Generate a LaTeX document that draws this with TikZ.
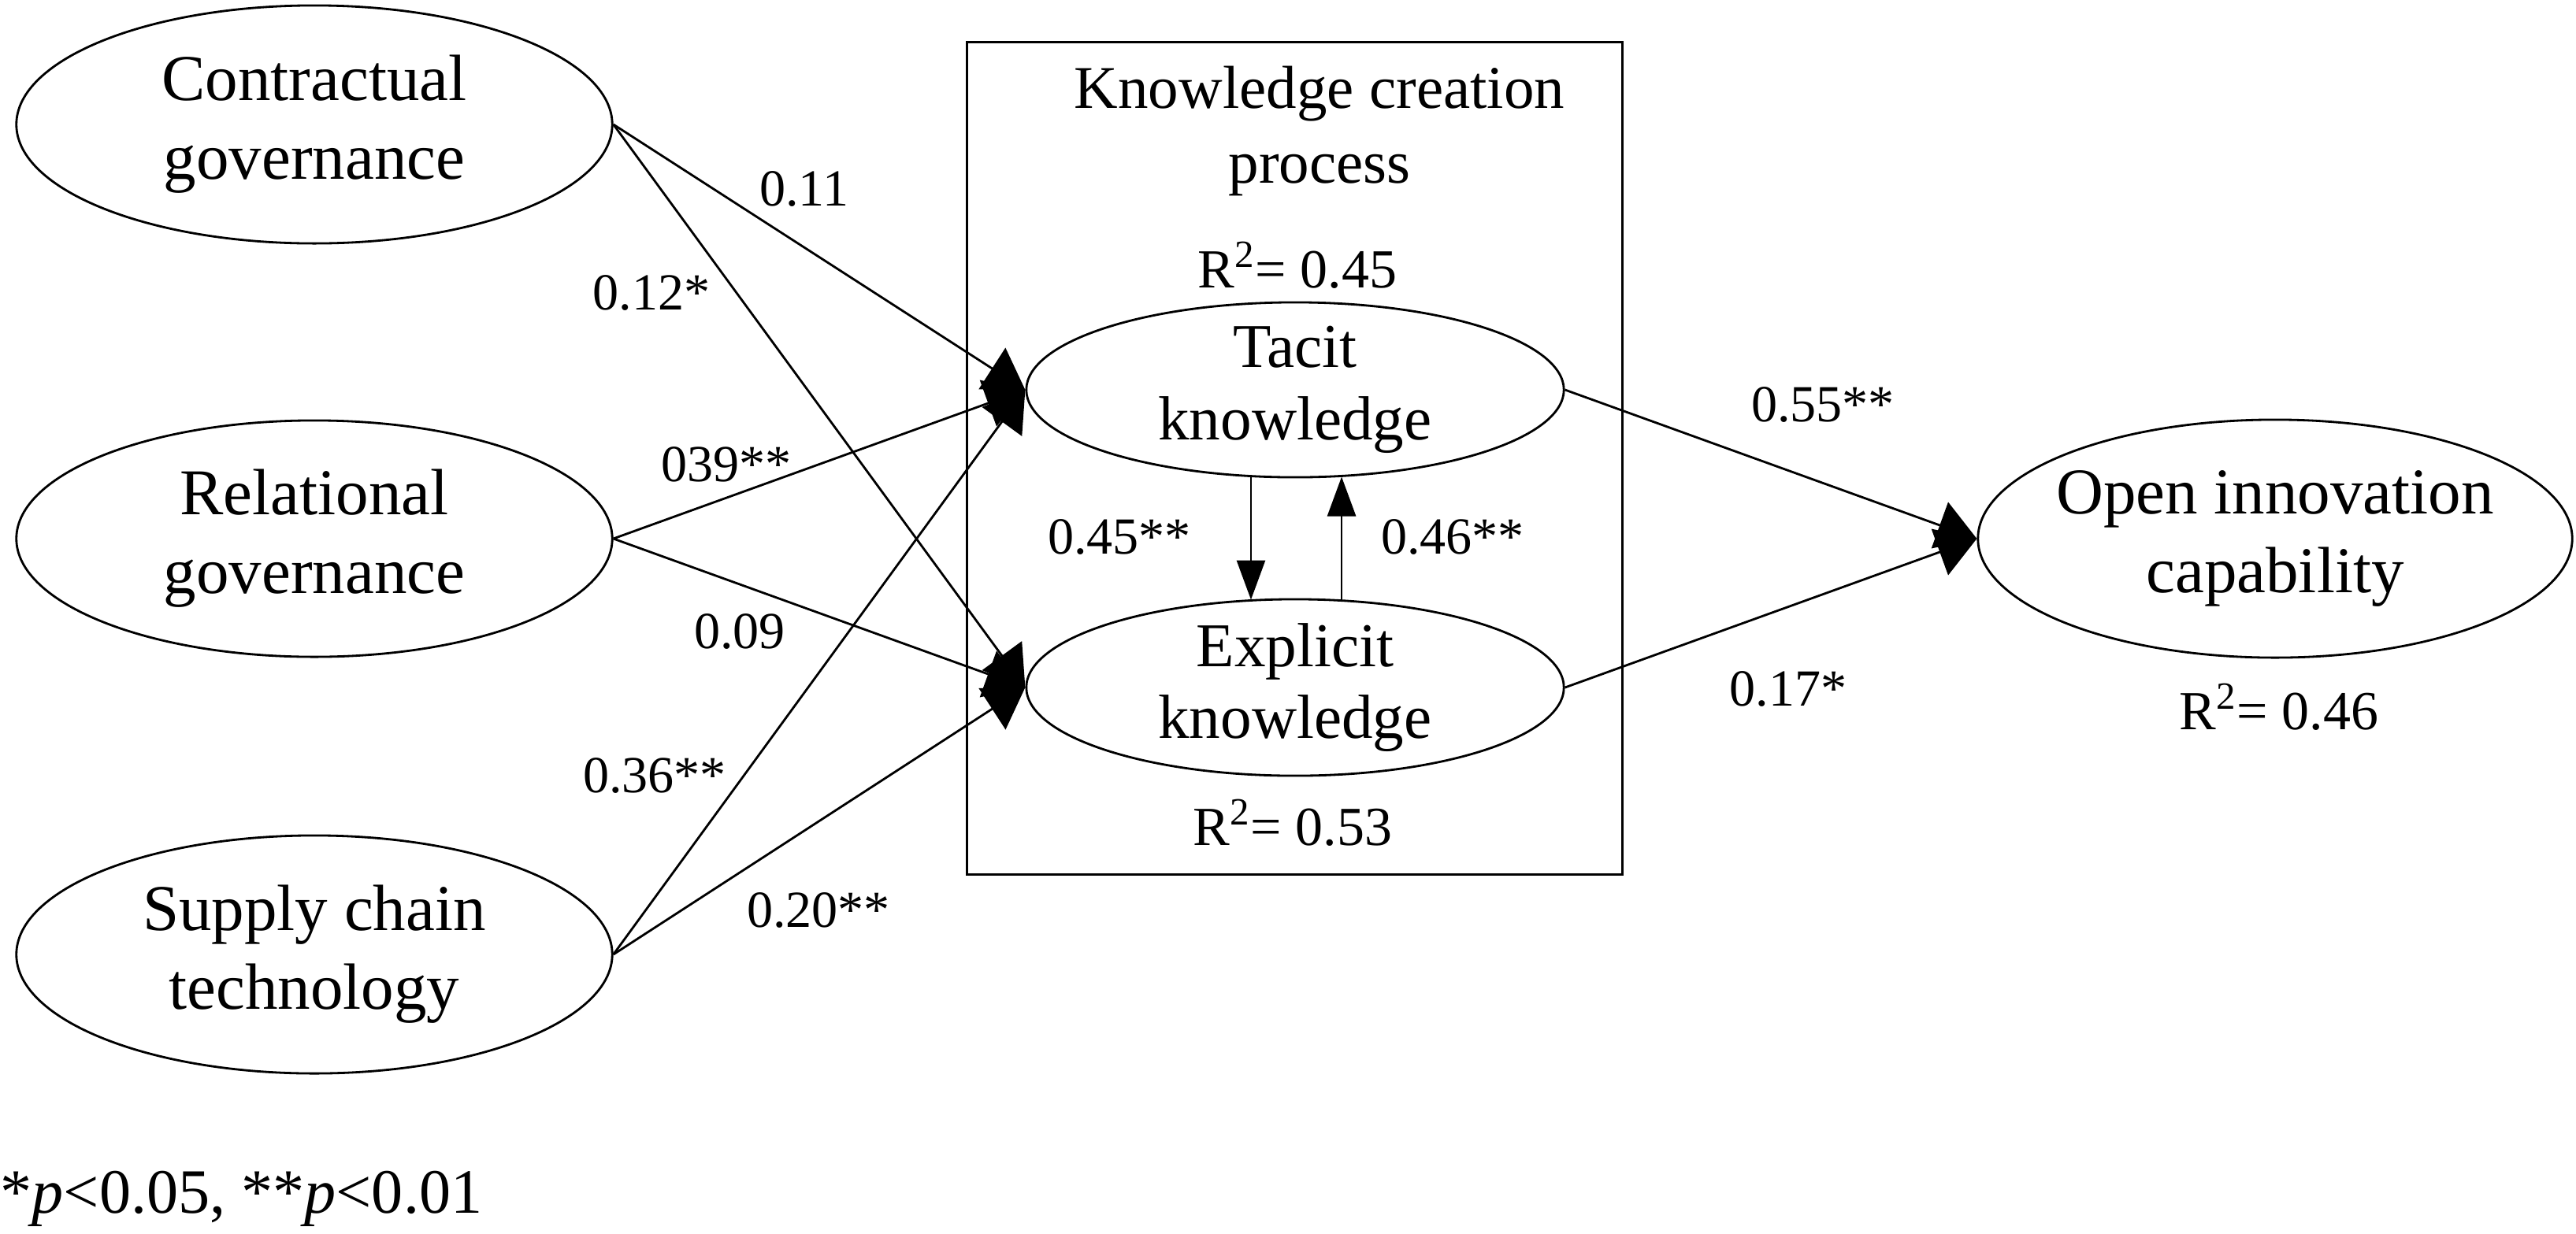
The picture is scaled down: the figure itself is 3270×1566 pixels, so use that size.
\documentclass[tikz,border=0pt]{standalone}
\usepackage{fontspec}
\setmainfont{Liberation Serif}
\usetikzlibrary{arrows.meta,shapes.geometric}
\tikzset{
  lv/.style={draw, ellipse, line width=0.8pt, inner sep=-0.3cm, align=center,
    font=\fontsize{23.6pt}{28.5pt}\selectfont},
  kv/.style={draw, ellipse, line width=0.8pt, inner sep=-0.3cm, align=center,
    minimum width=6.82cm, minimum height=2.22cm,
    font=\fontsize{22.5pt}{26pt}\selectfont},
  coef/.style={inner sep=0pt, font=\fontsize{18.8pt}{22pt}\selectfont},
  rsq/.style={inner sep=0pt, font=\fontsize{19.9pt}{23pt}\selectfont},
  path/.style={line width=0.8pt, -{Triangle[length=0.5cm,width=0.62cm]}},
  vpath/.style={line width=0.8pt, -{Triangle[length=0.5cm,width=0.36cm]}},
}
\begin{document}
\begin{tikzpicture}[x=0.01cm, y=-0.01cm]
\useasboundingbox (0,0) rectangle (3270,1566);
% frame of the knowledge creation process
\node[draw, line width=0.8pt, minimum width=8.31cm, minimum height=10.56cm, inner sep=0pt] (box) at (1643.5,582) {};
\node[inner sep=0pt, align=center, font=\fontsize{21.9pt}{27pt}\selectfont] (title) at (1675,166) {Knowledge creation\\process};
% latent variables
\node[lv, minimum width=7.56cm, minimum height=3.02cm] (CG) at (399,158) {Contractual\\governance};
\node[lv, minimum width=7.56cm, minimum height=3.00cm] (RG) at (399,684) {Relational\\governance};
\node[lv, minimum width=7.56cm, minimum height=3.02cm] (SC) at (399,1212) {Supply chain\\technology};
\node[kv] (TK) at (1644,495) {Tacit\\knowledge};
\node[kv, minimum height=2.24cm] (EK) at (1644,873) {Explicit\\knowledge};
\node[lv, minimum width=7.54cm, minimum height=3.02cm] (OI) at (2888,684) {Open innovation\\capability};
% R squared
\node[rsq] (r1) at (1647,337) {R\textsuperscript{2}= 0.45};
\node[rsq] (r2) at (1641,1045) {R\textsuperscript{2}= 0.53};
\node[rsq] (r3) at (2893,898) {R\textsuperscript{2}= 0.46};
% paths
\draw[path] (CG.east) -- (TK.west);
\draw[path] (CG.east) -- (EK.west);
\draw[path] (RG.east) -- (TK.west);
\draw[path] (RG.east) -- (EK.west);
\draw[path] (SC.east) -- (TK.west);
\draw[path] (SC.east) -- (EK.west);
\draw[path] (TK.east) -- (OI.west);
\draw[path] (EK.east) -- (OI.west);
\draw[vpath] ([xshift=-0.56cm,yshift=0.02cm]TK.south) -- ([xshift=-0.56cm,yshift=-0.02cm]EK.north);
\draw[vpath] ([xshift=0.59cm,yshift=-0.02cm]EK.north) -- ([xshift=0.59cm,yshift=0.02cm]TK.south);
% coefficients
\node[coef] (c1) at (1021,240) {0.11};
\node[coef] (c2) at (827,372) {0.12*};
\node[coef] (c3) at (922,590) {039**};
\node[coef] (c4) at (939,802) {0.09};
\node[coef] (c5) at (831,985) {0.36**};
\node[coef] (c6) at (1039,1156) {0.20**};
\node[coef] (c7) at (1421,682) {0.45**};
\node[coef] (c8) at (1844,682) {0.46**};
\node[coef] (c9) at (2314,514) {0.55**};
\node[coef] (c10) at (2270,875) {0.17*};
% note
\node[anchor=west, inner sep=0pt, font=\fontsize{22.8pt}{26pt}\selectfont] (note) at (0,1522) {*\textit{p}<0.05, **\textit{p}<0.01};
\end{tikzpicture}
\end{document}
